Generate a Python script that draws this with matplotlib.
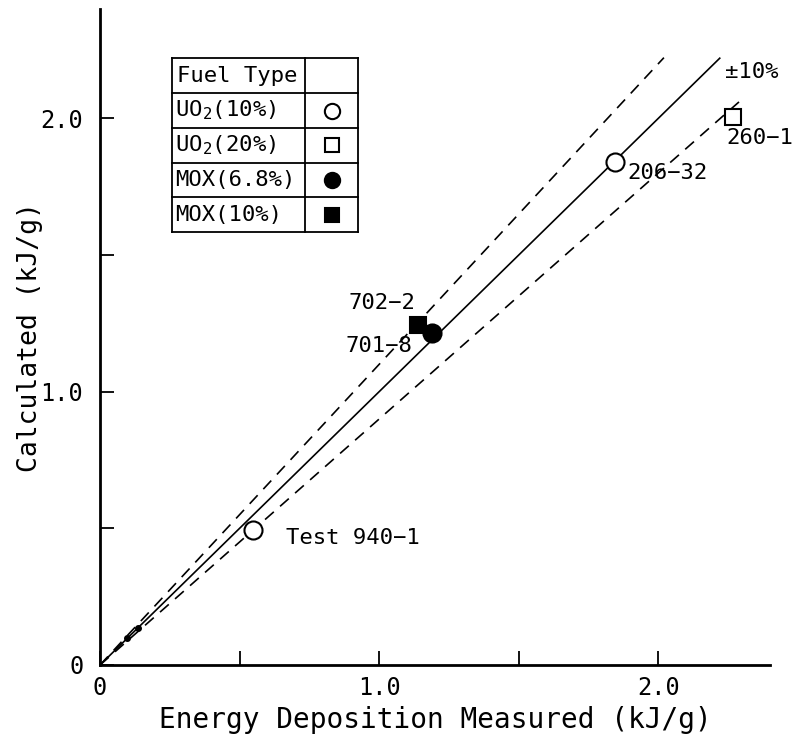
import numpy as np
import matplotlib.pyplot as plt

# energy deposition, measured vs calculated (kJ/g)
test_names = ['Test 940\u22121', '206\u221232', '260\u22121', '702\u22122', '701\u22128']
measured = [0.548, 1.846, 2.269, 1.140, 1.190]
calculated = [0.494, 1.839, 2.004, 1.243, 1.214]
test_fuel = [0, 0, 1, 3, 2]

# small unlabeled points near the origin
small_measured = [0.097, 0.136]
small_calculated = [0.099, 0.135]

fuel_types = ['UO$_2$(10%)', 'UO$_2$(20%)', 'MOX(6.8%)', 'MOX(10%)']
fuel_marker = ['o', 's', 'o', 's']
fuel_filled = [False, False, True, True]

band = 0.10  # +-10% lines
line_end = [2.22, 2.02, 2.29]  # x where the 1.0, 1.1, 0.9 lines stop

plt.rcParams['font.family'] = 'DejaVu Sans Mono'
plt.rcParams['mathtext.fontset'] = 'custom'
plt.rcParams['mathtext.rm'] = 'DejaVu Sans Mono'
plt.rcParams['mathtext.it'] = 'DejaVu Sans Mono'
fig = plt.figure(figsize=(8.01, 7.45), dpi=100)
ax = fig.add_axes([100/801, 80/745, 670/801, 656/745])

# reference lines
for k, (f, ls) in enumerate([(1.0, '-'), (1 + band, '--'), (1 - band, '--')]):
    xs = np.array([0, line_end[k]])
    if ls == '--':
        ax.plot(xs, f*xs, color='black', lw=1.2, ls=ls, dashes=(7, 5))
    else:
        ax.plot(xs, f*xs, color='black', lw=1.2)

def draw_marker(x, y, i, size=13, clip=True):
    face = 'black' if fuel_filled[i] else 'white'
    ms = size if fuel_marker[i] == 'o' else size - 1
    ax.plot(x, y, marker=fuel_marker[i], ms=ms, mfc=face, mec='black',
            mew=1.5, ls='none', clip_on=clip, zorder=5)

for x, y, f in zip(measured, calculated, test_fuel):
    draw_marker(x, y, f)
ax.plot(small_measured, small_calculated, 'o', ms=4, color='black', zorder=5)

offsets = [(24, -6, 'left'), (9, -8, 'left'), (-5, -15, 'left'),
           (-2, 16, 'right'), (-14, -9, 'right')]
for name, x, y, (dx, dy, ha) in zip(test_names, measured, calculated, offsets):
    ax.annotate(name, (x, y), xytext=(dx, dy), textcoords='offset points',
                ha=ha, va='center', fontsize=16, annotation_clip=False)

ax.annotate('\u00b110%', (line_end[0], line_end[0]), xytext=(4, -10),
            textcoords='offset points', ha='left', va='center', fontsize=16,
            annotation_clip=False)

# fuel type table
x0, xd, x1 = 0.258, 0.735, 0.925
y_top, row_h = 2.219, 0.127
n = len(fuel_types) + 1
y_bot = y_top - n*row_h
kw = dict(color='black', lw=1.3, clip_on=False, zorder=4)
for r in range(n + 1):
    yy = y_top - r*row_h
    ax.plot([x0, x1], [yy, yy], **kw)
for xx in (x0, xd, x1):
    ax.plot([xx, xx], [y_top, y_bot], **kw)
ax.text(x0 + 0.018, y_top - 0.5*row_h, 'Fuel Type', fontsize=16, va='center')
for i, name in enumerate(fuel_types):
    yc = y_top - (i + 1.5)*row_h
    ax.text(x0 + 0.012, yc, name, fontsize=16, va='center')
    draw_marker((xd + x1)/2, yc, i, size=11)

ax.set_xlim(0, 2.4)
ax.set_ylim(0, 2.4)
ax.set_xticks([0, 0.5, 1.0, 1.5, 2.0])
ax.set_xticklabels(['0', '', '1.0', '', '2.0'])
ax.set_yticks([0, 0.5, 1.0, 1.5, 2.0])
ax.set_yticklabels(['0', '', '1.0', '', '2.0'])
ax.tick_params(direction='in', length=10, width=1.3, labelsize=17)
ax.tick_params(axis='y', pad=12)
ax.tick_params(axis='x', pad=8)
for s in ['top', 'right']:
    ax.spines[s].set_visible(False)
for s in ['left', 'bottom']:
    ax.spines[s].set_linewidth(2)

ax.set_xlabel('Energy Deposition Measured (kJ/g)', fontsize=20, labelpad=4)
ax.set_ylabel('Calculated (kJ/g)', fontsize=19, labelpad=-2)

fig.savefig('out.png', dpi=100)
